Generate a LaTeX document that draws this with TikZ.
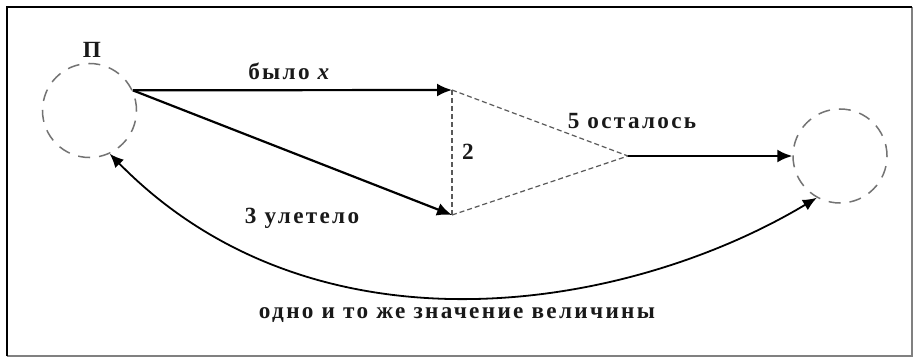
\documentclass[tikz,border=0pt]{standalone}
\usepackage{fontspec}
\setmainfont{Liberation Serif}
\newfontfamily\lblfont[LetterSpace=10]{Liberation Serif}
\usetikzlibrary{arrows.meta}
\begin{document}
\begin{tikzpicture}[x=0.5pt,y=-0.5pt,
  lbl/.style={font=\lblfont\bfseries\fontsize{11.6}{13}\selectfont, text=black!90, inner sep=0pt},
  place/.style={circle, draw=black!55, dash pattern=on 6pt off 4.5pt, line width=0.75pt, minimum size=47pt, inner sep=0pt},
  solidarrow/.style={line width=1.1pt, -{Latex[length=7.5pt,width=6.5pt]}},
  curvearrow/.style={line width=0.9pt, {Latex[length=7pt,width=6pt]}-{Latex[length=7pt,width=6pt]}},
  thindash/.style={draw=black!65, line width=0.6pt, dash pattern=on 2.5pt off 1.5pt}
]
\useasboundingbox (0,0) rectangle (914,358);
\fill[white] (0,0) rectangle (914,358);
% frame
\draw[black!50, line width=0.6pt] (912,7) -- (912,356) -- (7,356);
\draw[black, line width=1.3pt] (7,356) -- (7,7) -- (912,7);
% places
\node[place] (L) at (89.5,110.5) {};
\node[place] (R) at (840,156) {};
\coordinate (T) at (452,90);
\coordinate (B) at (452,215);
\coordinate (M) at (628,156);
% dashed triangle
\draw[thindash] (T) -- (B);
\draw[thindash] (T) -- (M);
\draw[thindash] (B) -- (M);
% arrows
\draw[solidarrow] (L.25) -- (T);
\draw[solidarrow] (L.25) -- (B);
\draw[solidarrow] (M) -- (R.west);
\draw[curvearrow] (L.-65) .. controls (316,364) and (628,311) .. (R.241);
% labels
\node[lbl] (lP) at (92,50) {П};
\node[lbl] (l1) at (290,71) {было \textit{x}};
\node[lbl] (l2) at (468,152) {2};
\node[lbl] (l3) at (632,121) {5 осталось};
\node[lbl] (l4) at (302,218) {3 улетело};
\node[lbl] (l5) at (457,315) {одно и то же значение величины};
\end{tikzpicture}
\end{document}
